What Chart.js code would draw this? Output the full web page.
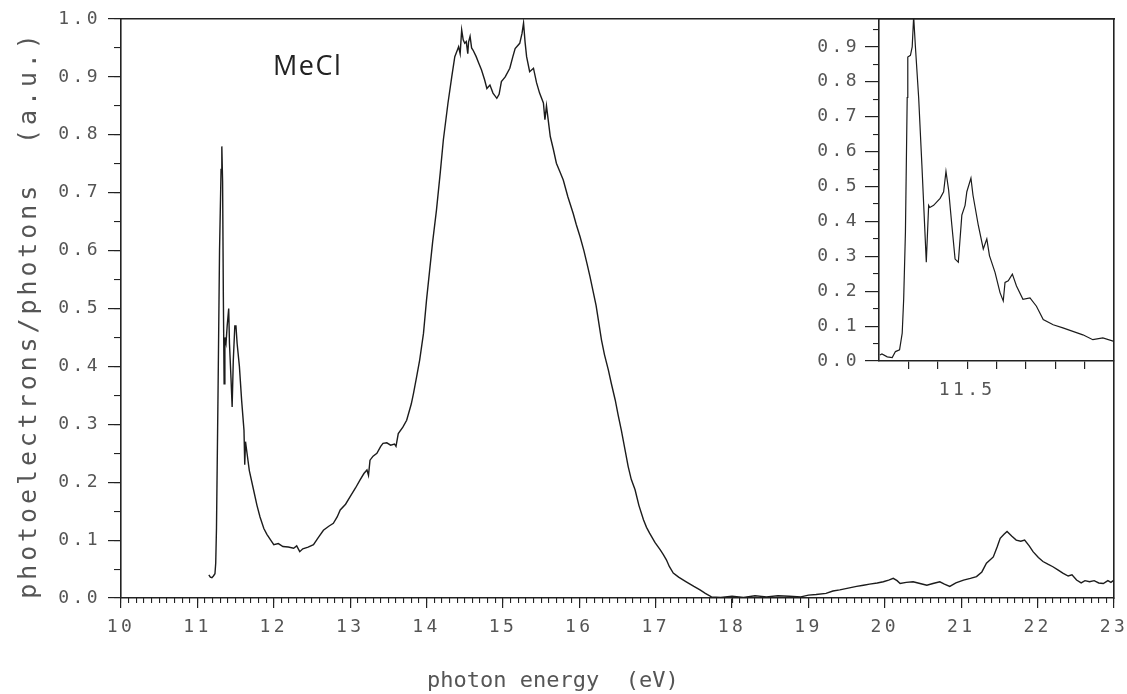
<!DOCTYPE html>
<html><head><meta charset="utf-8">
<script src="https://cdn.jsdelivr.net/npm/chart.js@4.4.1/dist/chart.umd.min.js"></script>
<style>
html,body{margin:0;padding:0;background:#fff;}
#wrap{position:relative;width:1127px;height:694px;overflow:hidden;}
#main{position:absolute;left:0;top:0;}
#inset{position:absolute;left:800px;top:0;}
</style></head><body>
<div id="wrap"><canvas id="main" width="1127" height="694"></canvas><canvas id="inset" width="327" height="420"></canvas></div>
<script>
// ---------- DATA ----------
const energy = [11.15,11.17,11.19,11.21,11.23,11.24,11.25,11.27,11.29,11.31,11.32,11.33,11.34,11.35,11.36,11.375,11.39,11.41,11.42,11.44,11.455,11.47,11.49,11.505,11.52,11.55,11.58,11.61,11.62,11.63,11.65,11.68,11.73,11.78,11.82,11.87,11.91,11.96,12.00,12.06,12.12,12.19,12.26,12.30,12.34,12.38,12.45,12.52,12.58,12.65,12.72,12.78,12.83,12.87,12.94,13.00,13.07,13.13,13.18,13.22,13.24,13.26,13.30,13.35,13.40,13.43,13.48,13.53,13.58,13.60,13.63,13.69,13.74,13.80,13.83,13.87,13.91,13.96,14.00,14.04,14.08,14.13,14.18,14.22,14.28,14.33,14.37,14.40,14.42,14.44,14.46,14.48,14.50,14.52,14.54,14.55,14.57,14.59,14.61,14.65,14.68,14.72,14.76,14.79,14.83,14.87,14.92,14.95,14.98,15.03,15.09,15.13,15.16,15.22,15.25,15.27,15.29,15.31,15.35,15.40,15.44,15.48,15.53,15.55,15.57,15.62,15.66,15.70,15.75,15.79,15.85,15.92,15.96,16.01,16.06,16.10,16.14,16.18,16.22,16.29,16.33,16.38,16.42,16.47,16.51,16.55,16.60,16.64,16.68,16.73,16.78,16.84,16.88,16.92,16.99,17.06,17.10,17.14,17.18,17.23,17.30,17.40,17.50,17.58,17.65,17.73,17.85,18.0,18.15,18.3,18.45,18.6,18.75,18.9,19.0,19.1,19.23,19.32,19.41,19.52,19.63,19.72,19.80,19.90,19.98,20.05,20.11,20.16,20.20,20.28,20.37,20.46,20.55,20.63,20.72,20.78,20.85,20.93,21.03,21.12,21.20,21.27,21.33,21.42,21.47,21.51,21.56,21.60,21.66,21.72,21.78,21.83,21.89,21.94,22.01,22.07,22.14,22.20,22.27,22.33,22.40,22.45,22.51,22.57,22.62,22.68,22.74,22.80,22.86,22.92,22.96,23.00];
const signal = [0.040,0.036,0.035,0.038,0.042,0.06,0.12,0.35,0.60,0.74,0.78,0.72,0.52,0.37,0.45,0.44,0.47,0.50,0.44,0.38,0.33,0.41,0.47,0.47,0.44,0.40,0.34,0.29,0.23,0.27,0.25,0.22,0.19,0.16,0.14,0.12,0.11,0.10,0.092,0.094,0.089,0.088,0.086,0.090,0.080,0.085,0.088,0.092,0.104,0.117,0.124,0.129,0.140,0.152,0.162,0.175,0.190,0.204,0.215,0.221,0.212,0.238,0.245,0.250,0.262,0.267,0.268,0.264,0.266,0.262,0.284,0.295,0.307,0.335,0.354,0.382,0.411,0.457,0.515,0.565,0.615,0.670,0.735,0.791,0.854,0.900,0.935,0.945,0.952,0.940,0.981,0.964,0.958,0.961,0.940,0.960,0.970,0.950,0.946,0.935,0.925,0.912,0.895,0.880,0.886,0.872,0.863,0.870,0.892,0.900,0.915,0.935,0.949,0.958,0.975,0.993,0.960,0.935,0.909,0.915,0.890,0.872,0.855,0.826,0.850,0.797,0.775,0.751,0.735,0.722,0.693,0.664,0.645,0.624,0.600,0.578,0.555,0.530,0.505,0.446,0.420,0.394,0.370,0.342,0.315,0.290,0.255,0.227,0.205,0.187,0.160,0.135,0.122,0.112,0.096,0.083,0.075,0.066,0.054,0.043,0.036,0.028,0.020,0.014,0.008,0.002,0.001,0.003,0.001,0.004,0.002,0.004,0.003,0.002,0.005,0.006,0.008,0.012,0.014,0.017,0.020,0.022,0.024,0.026,0.028,0.031,0.034,0.030,0.025,0.027,0.028,0.025,0.022,0.025,0.028,0.024,0.020,0.026,0.031,0.034,0.037,0.045,0.060,0.071,0.088,0.103,0.110,0.115,0.107,0.100,0.098,0.100,0.090,0.080,0.070,0.063,0.058,0.054,0.048,0.043,0.038,0.040,0.031,0.026,0.030,0.028,0.030,0.026,0.025,0.030,0.027,0.031];

const insetEnergy = [11.203,11.21,11.228,11.245,11.256,11.27,11.279,11.284,11.29,11.296,11.298,11.307,11.313,11.318,11.324,11.335,11.346,11.361,11.369,11.373,11.386,11.408,11.42,11.428,11.437,11.448,11.459,11.47,11.482,11.493,11.499,11.513,11.52,11.538,11.555,11.567,11.576,11.595,11.612,11.623,11.629,11.64,11.654,11.668,11.69,11.714,11.736,11.759,11.793,11.826,11.86,11.894,11.928,11.962,12.0];
const insetSignal = [0.017,0.02,0.012,0.01,0.027,0.032,0.08,0.177,0.37,0.755,0.871,0.876,0.90,0.987,0.90,0.755,0.562,0.283,0.446,0.44,0.446,0.466,0.485,0.543,0.49,0.389,0.292,0.283,0.418,0.446,0.485,0.524,0.475,0.389,0.321,0.35,0.302,0.254,0.196,0.172,0.225,0.23,0.249,0.215,0.177,0.181,0.157,0.119,0.104,0.095,0.085,0.075,0.061,0.066,0.056];

const xTickValues = [10,11,12,13,14,15,16,17,18,19,20,21,22,23];
const yTickValues = [0,0.1,0.2,0.3,0.4,0.5,0.6,0.7,0.8,0.9,1.0];
const insetXTickValues = [11.3,11.4,11.5,11.6,11.7,11.8,11.9];
const insetXLabels = ['11.5'];
const insetYTickValues = [0,0.1,0.2,0.3,0.4,0.5,0.6,0.7,0.8,0.9];
const xTitle = 'photon energy  (eV)';
const yTitle = 'photoelectrons/photons  (a.u.)';
const sampleLabel = 'MeCl';

// ---------- helpers ----------
function steps(a, b, s){ const out=[]; const n=Math.round((b-a)/s); for(let i=0;i<=n;i++) out.push(+(a+i*s).toFixed(4)); return out; }
const LINE = '#222';
const TXT = '#555';
const tickFont = {family:'DejaVu Sans Mono', size:18};

function spacingPlugin(sp){
  return { id:'spacing', beforeDraw(chart){ chart.ctx.letterSpacing = sp; } };
}
function noPadX(s){ s.paddingLeft = 0; s.paddingRight = 0; }
function noPadY(s){ s.paddingTop = 0; s.paddingBottom = 0; }

const textPlugin = {
  id:'texts',
  afterDraw(chart){
    const ctx = chart.ctx, ca = chart.chartArea, xs = chart.scales.x, ys = chart.scales.y;
    ctx.save();
    ctx.fillStyle = TXT;
    ctx.textBaseline = 'alphabetic';
    // x title
    ctx.font = '22px "DejaVu Sans Mono"';
    ctx.letterSpacing = '0px';
    ctx.textAlign = 'left';
    ctx.fillText(xTitle, ca.left + 306, ca.bottom + 89);
    // y title
    ctx.save();
    ctx.translate(36, (ca.top + ca.bottom)/2 + 6);
    ctx.rotate(-Math.PI/2);
    ctx.textAlign = 'center';
    ctx.font = '25px "DejaVu Sans Mono"';
    ctx.letterSpacing = '3.9px';
    ctx.fillText(yTitle, 0, 0);
    ctx.restore();
    // sample label
    ctx.fillStyle = '#222';
    ctx.font = '27px "Open Sans"';
    ctx.letterSpacing = '1.5px';
    ctx.textAlign = 'left';
    ctx.fillText(sampleLabel, xs.getPixelForValue(11.99), ys.getPixelForValue(0.904));
    ctx.restore();
  }
};

// ---------- MAIN CHART ----------
new Chart(document.getElementById('main'), {
  type:'line',
  data:{datasets:[{
    data: energy.map((e,i)=>({x:e, y:signal[i]})),
    borderColor:'#1c1c1c', borderWidth:1.4, pointRadius:0, tension:0, fill:false
  }]},
  options:{
    responsive:false, animation:false, devicePixelRatio:1,
    layout:{padding:{left:0, right:13, top:19, bottom:0}},
    plugins:{legend:{display:false}, tooltip:{enabled:false}},
    scales:{
      x:{type:'linear', position:'bottom', min:10, max:23, weight:10,
        afterBuildTicks:s=>{ s.ticks = xTickValues.map(v=>({value:v})); },
        afterFit:s=>{ s.height = 96; noPadX(s); },
        grid:{drawOnChartArea:false, drawTicks:true, tickLength:10, tickColor:LINE, color:LINE, lineWidth:1.2},
        border:{display:true, color:LINE, width:1.6},
        ticks:{autoSkip:false, maxRotation:0, padding:9, color:TXT, font:tickFont, callback:v=>String(v)}
      },
      xMinor:{type:'linear', position:'bottom', min:10, max:23, weight:0,
        afterBuildTicks:s=>{ s.ticks = steps(10,23,0.1).map(v=>({value:v})); },
        afterFit:s=>{ s.height = 0; noPadX(s); },
        grid:{drawOnChartArea:false, drawTicks:true, tickLength:5, tickColor:LINE, color:LINE, lineWidth:1.1},
        border:{display:false}, ticks:{display:false}
      },
      xTop:{type:'linear', position:'top', min:10, max:23,
        afterFit:s=>{ s.height = 0; noPadX(s); },
        grid:{drawOnChartArea:false, drawTicks:false},
        border:{display:true, color:LINE, width:1.6}, ticks:{display:false}
      },
      y:{type:'linear', position:'left', min:0, max:1, weight:10,
        afterBuildTicks:s=>{ s.ticks = yTickValues.map(v=>({value:v})); },
        afterFit:s=>{ s.width = 121; noPadY(s); },
        grid:{drawOnChartArea:false, drawTicks:true, tickLength:13, tickColor:LINE, color:LINE, lineWidth:1.2},
        border:{display:true, color:LINE, width:1.6},
        ticks:{autoSkip:false, padding:7, color:TXT, font:tickFont, callback:v=>v.toFixed(1)}
      },
      yMinor:{type:'linear', position:'left', min:0, max:1, weight:0,
        afterBuildTicks:s=>{ s.ticks = steps(0,1,0.05).map(v=>({value:v})); },
        afterFit:s=>{ s.width = 0; noPadY(s); },
        grid:{drawOnChartArea:false, drawTicks:true, tickLength:7, tickColor:LINE, color:LINE, lineWidth:1.1},
        border:{display:false}, ticks:{display:false}
      },
      yRight:{type:'linear', position:'right', min:0, max:1,
        afterFit:s=>{ s.width = 0; noPadY(s); },
        grid:{drawOnChartArea:false, drawTicks:false},
        border:{display:true, color:LINE, width:1.6}, ticks:{display:false}
      }
    }
  },
  plugins:[spacingPlugin('3.4px'), textPlugin]
});

// ---------- INSET CHART ----------
new Chart(document.getElementById('inset'), {
  type:'line',
  data:{datasets:[{
    data: insetEnergy.map((e,i)=>({x:e, y:insetSignal[i]})),
    borderColor:'#1c1c1c', borderWidth:1.2, pointRadius:0, tension:0, fill:false
  }]},
  options:{
    responsive:false, animation:false, devicePixelRatio:1,
    layout:{padding:{left:0, right:13, top:19, bottom:0}},
    plugins:{legend:{display:false}, tooltip:{enabled:false}},
    scales:{
      x:{type:'linear', position:'bottom', min:11.2, max:12.0, weight:10,
        afterBuildTicks:s=>{ s.ticks = insetXTickValues.map(v=>({value:v})); },
        afterFit:s=>{ s.height = 59; noPadX(s); },
        grid:{drawOnChartArea:false, drawTicks:true, tickLength:8, tickColor:LINE, color:LINE, lineWidth:1.2},
        border:{display:true, color:LINE, width:1.6},
        ticks:{autoSkip:false, maxRotation:0, padding:11, color:TXT, font:tickFont,
          callback:v=>{ const t=v.toFixed(1); return insetXLabels.includes(t)?t:''; }}
      },
      xTop:{type:'linear', position:'top', min:11.2, max:12.0,
        afterFit:s=>{ s.height = 0; noPadX(s); },
        grid:{drawOnChartArea:false, drawTicks:false},
        border:{display:true, color:LINE, width:1.6}, ticks:{display:false}
      },
      y:{type:'linear', position:'left', min:0, max:0.98, weight:10,
        afterBuildTicks:s=>{ s.ticks = insetYTickValues.map(v=>({value:v})); },
        afterFit:s=>{ s.width = 79; noPadY(s); },
        grid:{drawOnChartArea:false, drawTicks:true, tickLength:14, tickColor:LINE, color:LINE, lineWidth:1.2},
        border:{display:true, color:LINE, width:1.6},
        ticks:{autoSkip:false, padding:5, color:TXT, font:tickFont, callback:v=>v.toFixed(1)}
      },
      yMinor:{type:'linear', position:'left', min:0, max:0.98, weight:0,
        afterBuildTicks:s=>{ s.ticks = steps(0.05,0.95,0.1).map(v=>({value:v})); },
        afterFit:s=>{ s.width = 0; noPadY(s); },
        grid:{drawOnChartArea:false, drawTicks:true, tickLength:6, tickColor:LINE, color:LINE, lineWidth:1.1},
        border:{display:false}, ticks:{display:false}
      }
    }
  },
  plugins:[spacingPlugin('3.4px')]
});
</script>
</body></html>
